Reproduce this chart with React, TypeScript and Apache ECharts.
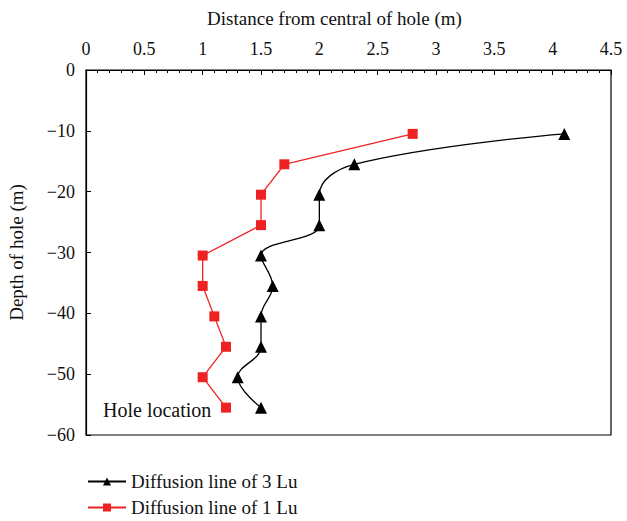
import React, { useEffect, useRef } from "react";
import * as echarts from "echarts";

const depths = [-10.5, -15.5, -20.5, -25.5, -30.5, -35.5, -40.5, -45.5, -50.5, -55.5];
const dist3Lu = [4.1, 2.3, 2.0, 2.0, 1.5, 1.6, 1.5, 1.5, 1.3, 1.5];
const dist1Lu = [2.8, 1.7, 1.5, 1.5, 1.0, 1.0, 1.1, 1.2, 1.0, 1.2];
const seriesNames = ["Diffusion line of 3 Lu", "Diffusion line of 1 Lu"];
const xTitle = "Distance from central of hole (m)";
const yTitle = "Depth of hole (m)";
const noteText = "Hole location";

const FONT = "Liberation Serif";

export default function App() {
  const ref = useRef<HTMLDivElement>(null);
  useEffect(() => {
    if (!ref.current) return;
    const chart = echarts.init(ref.current, undefined, { renderer: "svg" });
    const d3 = depths.map((d, i) => [dist3Lu[i], d]);
    const d1 = depths.map((d, i) => [dist1Lu[i], d]);
    chart.setOption({
      animation: false,
      textStyle: { fontFamily: FONT },
      grid: {
        left: 86,
        right: 16,
        top: 70,
        bottom: 86,
        outerBoundsMode: "none",
        containLabel: false,
        show: true,
        borderColor: "#000",
        borderWidth: 1.2,
        backgroundColor: "transparent",
      },
      xAxis: {
        type: "value",
        position: "top",
        min: 0,
        max: 4.5,
        interval: 0.5,
        name: xTitle,
        nameLocation: "middle",
        nameGap: 42,
        nameTextStyle: { fontFamily: FONT, fontSize: 19, color: "#111", padding: [0, 28, 0, 0] },
        axisLine: { show: true, lineStyle: { color: "#000", width: 1.2 } },
        axisTick: { show: true, inside: true, length: 5, lineStyle: { color: "#000" } },
        minorTick: { show: true, splitNumber: 5, length: 3, lineStyle: { color: "#000" } },
        axisLabel: { fontFamily: FONT, fontSize: 18, color: "#111", margin: 12 },
        splitLine: { show: false },
      },
      yAxis: {
        type: "value",
        min: -60,
        max: 0,
        interval: 10,
        name: yTitle,
        nameLocation: "middle",
        nameGap: 60,
        nameRotate: 90,
        nameTextStyle: { fontFamily: FONT, fontSize: 19, color: "#111" },
        axisLine: { show: true, lineStyle: { color: "#000", width: 1.2 } },
        axisTick: { show: true, inside: true, length: 5, lineStyle: { color: "#000" } },
        axisLabel: {
          fontFamily: FONT,
          fontSize: 18,
          color: "#111",
          margin: 11,
          formatter: (v: number) => String(v).replace("-", "\u2212"),
        },
        splitLine: { show: false },
      },
      legend: {
        orient: "vertical",
        left: 82,
        top: 467,
        height: 54,
        itemWidth: 38,
        itemHeight: 10,
        itemGap: 7,
        textStyle: { fontFamily: FONT, fontSize: 19, color: "#111" },
        data: seriesNames,
      },
      graphic: [
        {
          type: "text",
          left: 103,
          top: 400,
          style: { text: noteText, font: `20px "${FONT}"`, fill: "#111" },
        },
      ],
      series: [
        {
          name: seriesNames[0],
          type: "line",
          data: d3,
          smooth: 0.4,
          symbol: "triangle",
          symbolSize: 12,
          lineStyle: { color: "#000", width: 1.3 },
          itemStyle: { color: "#000" },
        },
        {
          name: seriesNames[1],
          type: "line",
          data: d1,
          symbol: "rect",
          symbolSize: 10,
          lineStyle: { color: "#ee2222", width: 1.3 },
          itemStyle: { color: "#ee2222" },
        },
      ],
    });
    return () => chart.dispose();
  }, []);
  return (
    <div
      ref={ref}
      style={{ position: "absolute", left: 0, top: 0, width: 627, height: 521 }}
    />
  );
}
